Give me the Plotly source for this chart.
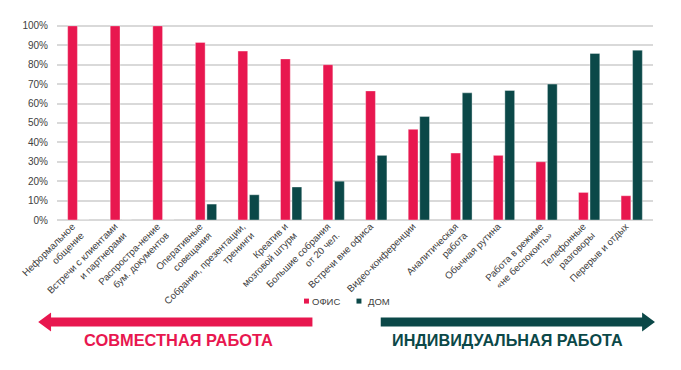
import plotly.graph_objects as go

categories = [
    "Неформальное<br>общение",
    "Встречи с клиентами<br>и партнерами",
    "Распростра-нение<br>бум. документов",
    "Оперативные<br>совещания",
    "Собрания, презентации,<br>тренинги",
    "Креатив и<br>мозговой штурм",
    "Большие собрания<br>от 20 чел.",
    "Встречи вне офиса",
    "Видео-конференции",
    "Аналитическая<br>работа",
    "Обычная рутина",
    "Работа в режиме<br>«не беспокоить»",
    "Телефонные<br>разговоры",
    "Перерыв и отдых",
]
office = [100, 100, 100, 91.5, 87, 83, 80, 66.5, 46.7, 34.5, 33.3, 30, 14.2, 12.5]
home = [0, 0, 0, 8.2, 13, 17, 20, 33.3, 53.3, 65.5, 66.7, 70, 85.8, 87.5]
y_ticks = [0, 10, 20, 30, 40, 50, 60, 70, 80, 90, 100]
y_tick_labels = [f"{v}%" for v in y_ticks]
series_names = ["ОФИС", "ДОМ"]

RED = "#E8174F"
TEAL = "#0B4848"
FONT = "Liberation Sans, Arial, sans-serif"
GREY = "#404040"

# page body has an 8px margin; work in window pixels and shift
OFF = 8
W, H = 681 - OFF, 370 - OFF
L, R_EDGE, TOP, BOT = 51 - OFF, 653 - OFF, 21 - OFF, 220 - OFF

fig = go.Figure()
fig.add_trace(go.Bar(x=categories, y=office, name=series_names[0], marker_color=RED,
                     marker_line=dict(color="rgba(255,255,255,0.6)", width=0.6),
                     showlegend=False))
fig.add_trace(go.Bar(x=categories, y=home, name=series_names[1], marker_color=TEAL,
                     marker_line=dict(color="rgba(255,255,255,0.6)", width=0.6),
                     showlegend=False))


def px(x, y):
    """window pixel -> paper coordinates"""
    x -= OFF
    y -= OFF
    return (x - L) / (R_EDGE - L), (BOT - y) / (BOT - TOP)


def path(points):
    parts = []
    for i, (x, y) in enumerate(points):
        a, b = px(x, y)
        parts.append(("M" if i == 0 else "L") + f"{a:.5f},{b:.5f}")
    return " ".join(parts) + " Z"


def rect(x0, y0, x1, y1, color):
    a0, b0 = px(x0, y0)
    a1, b1 = px(x1, y1)
    return dict(type="rect", xref="paper", yref="paper", x0=a0, y0=b0, x1=a1, y1=b1,
                fillcolor=color, line=dict(width=0))


red_arrow = [(32, 322.5), (45, 313), (45, 318), (309, 318), (309, 327), (45, 327), (45, 332)]
teal_arrow = [(378, 318), (642, 318), (642, 313), (655, 322.5), (642, 332), (642, 327), (378, 327)]

shapes = [
    dict(type="path", xref="paper", yref="paper", path=path(red_arrow),
         fillcolor=RED, line=dict(width=0)),
    dict(type="path", xref="paper", yref="paper", path=path(teal_arrow),
         fillcolor=TEAL, line=dict(width=0)),
    rect(300.5, 299, 305.5, 304, RED),
    rect(353.5, 299, 358.5, 304, TEAL),
]

ax1, ay1 = px(174, 341)
ax2, ay2 = px(506, 341)
l1x, l1y = px(308, 301.5)
l2x, l2y = px(364, 301.5)
annotations = [
    dict(x=ax1, y=ay1, xref="paper", yref="paper", text="<b>СОВМЕСТНАЯ РАБОТА</b>",
         showarrow=False, font=dict(family=FONT, size=16.4, color=RED),
         xanchor="center", yanchor="middle"),
    dict(x=ax2, y=ay2, xref="paper", yref="paper", text="<b>ИНДИВИДУАЛЬНАЯ РАБОТА</b>",
         showarrow=False, font=dict(family=FONT, size=16.2, color=TEAL),
         xanchor="center", yanchor="middle"),
    dict(x=l1x, y=l1y, xref="paper", yref="paper", text=series_names[0],
         showarrow=False, font=dict(family=FONT, size=9.5, color=GREY),
         xanchor="left", yanchor="middle", xshift=-1),
    dict(x=l2x, y=l2y, xref="paper", yref="paper", text=series_names[1],
         showarrow=False, font=dict(family=FONT, size=9.5, color=GREY),
         xanchor="left", yanchor="middle", xshift=-1),
]

fig.update_layout(
    width=W, height=H,
    margin=dict(l=L, r=W - R_EDGE, t=TOP, b=H - BOT),
    paper_bgcolor="white", plot_bgcolor="white",
    barmode="group", bargap=0.46, bargroupgap=0.15,
    font=dict(family=FONT, size=9.7, color=GREY),
    showlegend=False,
    shapes=shapes,
    annotations=annotations,
    xaxis=dict(tickangle=-45, tickfont=dict(size=9.7, color=GREY),
               showgrid=False, ticks="", showline=False,
               ticklabelshift=-6, ticklabelstandoff=-2),
    yaxis=dict(range=[0, 102], tickvals=y_ticks, ticktext=y_tick_labels,
               showgrid=True, gridcolor="#D9D9D9", gridwidth=1.5,
               zeroline=True, zerolinecolor="#D9D9D9", zerolinewidth=1.5,
               tickfont=dict(size=10, color=GREY), ticks="", ticklabelstandoff=8),
)

fig.write_html("out.html")
